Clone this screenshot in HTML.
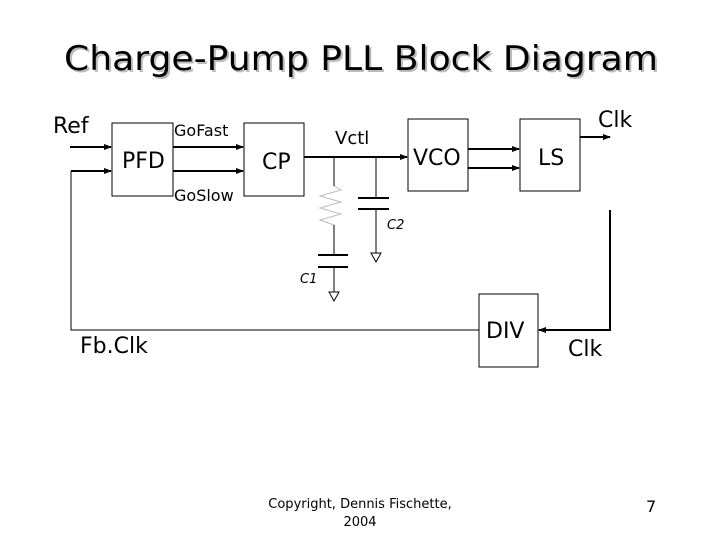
<!DOCTYPE html>
<html><head><meta charset="utf-8"><style>body{margin:0;background:#fff}svg{display:block}</style></head><body>
<svg width="720" height="540" viewBox="0 0 720 540" font-family="DejaVu Sans, Liberation Sans, sans-serif">
<defs><marker id="a" markerWidth="8" markerHeight="8" refX="7" refY="4" orient="auto" markerUnits="userSpaceOnUse"><path d="M0,1 L8,4 L0,7 z" fill="#000"/></marker></defs>
<text x="66" y="72" font-size="34" fill="#bbb" textLength="594" lengthAdjust="spacingAndGlyphs">Charge-Pump PLL Block Diagram</text>
<text x="64" y="70" font-size="34" fill="#000" textLength="594" lengthAdjust="spacingAndGlyphs">Charge-Pump PLL Block Diagram</text>
<g fill="none" stroke="#000" stroke-width="1">
<rect x="112" y="123" width="61" height="73"/>
<rect x="244" y="123" width="60" height="73"/>
<rect x="408" y="119" width="60" height="72"/>
<rect x="520" y="119" width="60" height="72"/>
<rect x="479" y="294" width="59" height="73"/>
</g>
<g stroke="#000" stroke-width="2" fill="none">
<line x1="70" y1="147" x2="111" y2="147" marker-end="url(#a)"/>
<line x1="71" y1="171" x2="111" y2="171" marker-end="url(#a)"/>
<line x1="173" y1="147" x2="243" y2="147" marker-end="url(#a)"/>
<line x1="173" y1="171" x2="243" y2="171" marker-end="url(#a)"/>
<line x1="304" y1="157" x2="407" y2="157" marker-end="url(#a)"/>
<line x1="468" y1="149" x2="519" y2="149" marker-end="url(#a)"/>
<line x1="468" y1="168" x2="519" y2="168" marker-end="url(#a)"/>
<line x1="580" y1="137" x2="610" y2="137" marker-end="url(#a)"/>
<polyline points="610,210 610,330 539,330" marker-end="url(#a)"/>
</g>
<g stroke="#000" stroke-width="1" fill="none">
<polyline points="71,171 71,330 479,330"/>
<line x1="334" y1="157" x2="334" y2="186"/>
<polyline points="334,186 341,190 320,196 341,202 320,208 341,214 320,220 334,225" stroke="#bbb"/>
<line x1="334" y1="225" x2="334" y2="255"/>
<line x1="318" y1="255" x2="348" y2="255" stroke-width="2"/>
<line x1="318" y1="267" x2="348" y2="267" stroke-width="2"/>
<line x1="334" y1="267" x2="334" y2="292"/>
<path d="M329,292 L339,292 L334,301 z"/>
<line x1="376" y1="157" x2="376" y2="198"/>
<line x1="358" y1="198" x2="389" y2="198" stroke-width="2"/>
<line x1="358" y1="209" x2="389" y2="209" stroke-width="2"/>
<line x1="376" y1="209" x2="376" y2="253"/>
<path d="M371,253 L381,253 L376,262 z"/>
</g>
<g fill="#000">
<text x="53" y="133" font-size="22">Ref</text>
<text x="122" y="168" font-size="22">PFD</text>
<text x="174" y="136" font-size="16">GoFast</text>
<text x="174" y="201" font-size="16">GoSlow</text>
<text x="262" y="169" font-size="22">CP</text>
<text x="335" y="144" font-size="18">Vctl</text>
<text x="413" y="165" font-size="22">VCO</text>
<text x="538" y="165" font-size="22">LS</text>
<text x="598" y="127" font-size="22">Clk</text>
<text x="486" y="338" font-size="22">DIV</text>
<text x="568" y="356" font-size="22">Clk</text>
<text x="80" y="353" font-size="22">Fb.Clk</text>
<text x="387" y="229" font-size="13" font-style="italic">C2</text>
<text x="300" y="283" font-size="13" font-style="italic">C1</text>
<text x="360" y="508" font-size="13" text-anchor="middle">Copyright, Dennis Fischette,</text>
<text x="360" y="526" font-size="13" text-anchor="middle">2004</text>
<text x="646" y="512" font-size="16">7</text>
</g>
</svg>
</body></html>
